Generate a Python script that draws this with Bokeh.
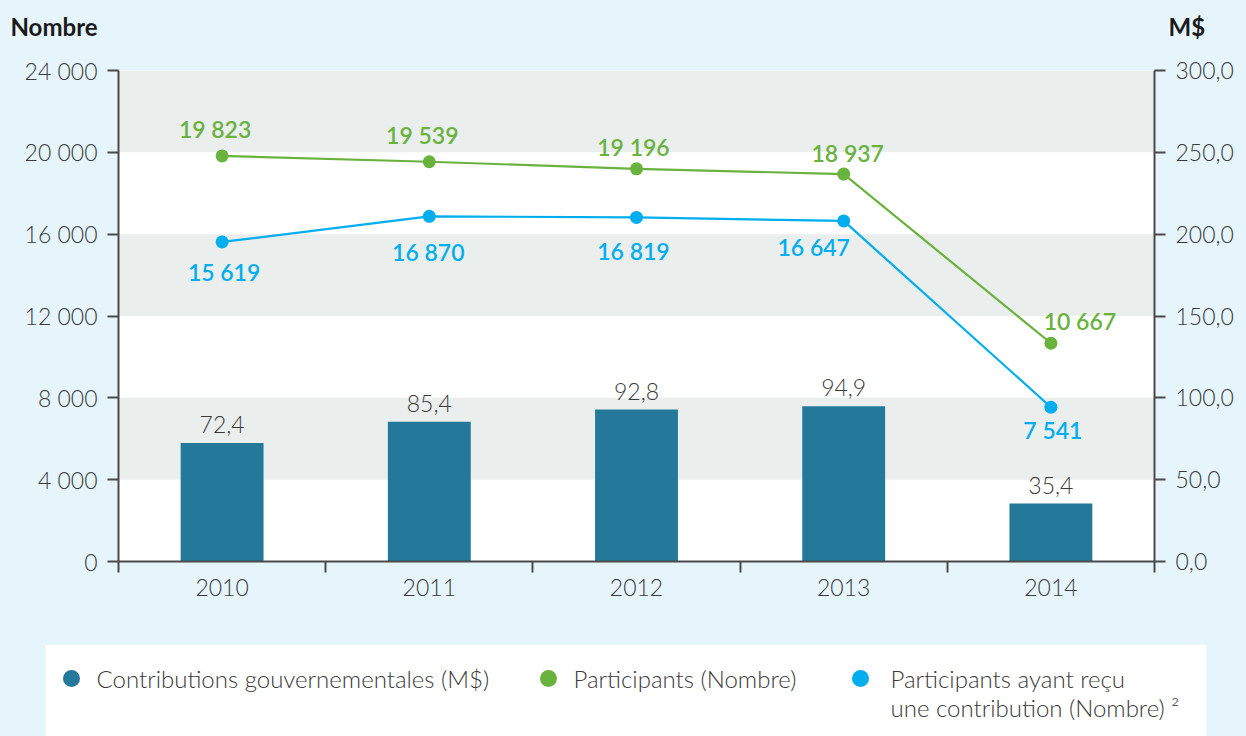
from bokeh.plotting import figure
from bokeh.models import (Range1d, LinearAxis, FixedTicker, BoxAnnotation,
                          ColumnDataSource, LabelSet)
from bokeh.layouts import column
from bokeh.embed import file_html
from bokeh.resources import INLINE
from bokeh.core.properties import value

# ---- data ----
years = ["2010", "2011", "2012", "2013", "2014"]
contributions = [72.4, 85.4, 92.8, 94.9, 35.4]          # M$
participants = [19823, 19539, 19196, 18937, 10667]      # Nombre
participants_contrib = [15619, 16870, 16819, 16647, 7541]
left_ticks = [0, 4000, 8000, 12000, 16000, 20000, 24000]
right_ticks = [0, 50, 100, 150, 200, 250, 300]
axis_titles = ["Nombre", "M$"]
legend_labels = ["Contributions gouvernementales (M$)", "Participants (Nombre)",
                 "Participants ayant reçu\nune contribution (Nombre) ²"]

# ---- styles ----
BG = "#e6f5fc"
BAR = "#24799a"
GREEN = "#6ab23e"
BLUE = "#00aeef"
GRAY_BAND = "#eaeeed"
AXIS = "#4a4a4a"
TXT = "#3a3a3a"
FONT = "Lato"
LIGHT = "'Lato Light', Lato"
SEMI = "'Lato Semibold', 'Lato SemiBold', Lato"

def fmt_int(v):
    return f"{v:,}".replace(",", " ")

def fmt_dec(v):
    return f"{v:.1f}".replace(".", ",")

W = 1246
HEAD_H = 50
MAIN_H = 594
LEG_H = 92

# ---- header with axis titles ----
hd = figure(width=W, height=HEAD_H, output_backend="svg", toolbar_location=None,
            x_range=Range1d(0, W), y_range=Range1d(HEAD_H, 0), min_border=0,
            frame_align=False)
hd.border_fill_color = BG
hd.background_fill_color = BG
hd.outline_line_color = None
hd.axis.visible = False
hd.grid.visible = False
hd.text(x=[10, 1168], y=[26, 26], text=axis_titles, text_align="left",
        text_baseline="middle", text_font=value(FONT), text_font_size="24px",
        text_font_style="bold", text_color="#1a1a1a")

# ---- main chart ----
p = figure(width=W, height=MAIN_H, output_backend="svg", toolbar_location=None,
           x_range=Range1d(0, 5), y_range=Range1d(0, 24000),
           min_border_left=118, min_border_right=92, min_border_top=20,
           min_border_bottom=83, frame_align=False)
p.border_fill_color = BG
p.background_fill_color = "white"
p.outline_line_color = None
p.xgrid.visible = False
p.ygrid.visible = False
p.extra_y_ranges = {"mm": Range1d(0, 300)}

for lo in [4000, 12000, 20000]:
    p.add_layout(BoxAnnotation(bottom=lo, top=lo + 4000, fill_color=GRAY_BAND,
                               fill_alpha=1, line_color=None, level="underlay"))

xc = [i + 0.5 for i in range(len(years))]

bsrc = ColumnDataSource(dict(x=xc, top=contributions,
                             lab=[fmt_dec(v) for v in contributions]))
p.vbar(x="x", top="top", width=0.4, bottom=0, source=bsrc, y_range_name="mm",
       fill_color=BAR, line_color=None)
p.add_layout(LabelSet(x="x", y="top", text="lab", source=bsrc, y_range_name="mm",
                      text_align="center", text_baseline="bottom", y_offset=10,
                      text_font=value(LIGHT), text_font_size="23px", text_color=TXT))

gsrc = ColumnDataSource(dict(x=xc, y=participants, lab=[fmt_int(v) for v in participants],
                             dx=[-7, -7, -3, 4, 29], dy=[27, 27, 22, 21, 22]))
bsrc2 = ColumnDataSource(dict(x=xc, y=participants_contrib,
                              lab=[fmt_int(v) for v in participants_contrib],
                              dx=[2, -1, -3, -30, 2], dy=[-30, -36, -34, -26, -23]))
for src, col in [(gsrc, GREEN), (bsrc2, BLUE)]:
    p.line(x="x", y="y", source=src, line_color=col, line_width=2.2)
    p.scatter(x="x", y="y", source=src, size=13, fill_color=col, line_color=None)
    p.add_layout(LabelSet(x="x", y="y", text="lab", source=src,
                          x_offset="dx", y_offset="dy",
                          text_align="center", text_baseline="middle",
                          text_font=value(SEMI), text_font_size="23px",
                          text_color=col))

p.xaxis.ticker = FixedTicker(ticks=xc, minor_ticks=list(range(6)))
p.xaxis.major_label_overrides = {x: y for x, y in zip(xc, years)}
p.xaxis.major_tick_out = 0
p.xaxis.major_tick_in = 0
p.xaxis.minor_tick_out = 11
p.xaxis.minor_tick_in = 0
p.xaxis.minor_tick_line_color = AXIS
p.xaxis.minor_tick_line_width = 2
p.xaxis.axis_line_color = AXIS
p.xaxis.axis_line_width = 2
p.xaxis.major_label_standoff = 6
p.xaxis.major_label_text_font = LIGHT
p.xaxis.major_label_text_font_size = "23px"
p.xaxis.major_label_text_color = TXT

p.yaxis.ticker = FixedTicker(ticks=left_ticks, minor_ticks=[])
p.yaxis.major_label_overrides = {t: fmt_int(t) for t in left_ticks}
ra = LinearAxis(y_range_name="mm", ticker=FixedTicker(ticks=right_ticks, minor_ticks=[]))
ra.major_label_overrides = {t: fmt_dec(t) for t in right_ticks}
p.add_layout(ra, "right")
for ax in [p.yaxis[0], ra]:
    ax.major_tick_out = 11
    ax.major_tick_in = 0
    ax.major_tick_line_color = AXIS
    ax.major_tick_line_width = 2
    ax.axis_line_color = AXIS
    ax.axis_line_width = 2
    ax.major_label_standoff = 10
    ax.major_label_text_font = LIGHT
    ax.major_label_text_font_size = "23px"
    ax.major_label_text_color = TXT

# ---- legend panel ----
lg = figure(width=W, height=LEG_H, output_backend="svg", toolbar_location=None,
            x_range=Range1d(0, W), y_range=Range1d(LEG_H, 0), min_border=0,
            frame_align=False)
lg.border_fill_color = BG
lg.background_fill_color = BG
lg.outline_line_color = None
lg.axis.visible = False
lg.grid.visible = False
lg.quad(left=45, right=1206, top=0, bottom=LEG_H, fill_color="white", line_color=None)
dot_x = [71, 548, 860]
txt_x = [96, 573, 890]
cols = [BAR, GREEN, BLUE]
lg.scatter(x=dot_x, y=[34] * 3, size=17, fill_color=cols, line_color=None)
for tx, lab in zip(txt_x, legend_labels):
    for k, line in enumerate(lab.split("\n")):
        lg.text(x=[tx], y=[34 + 29 * k], text=[line], text_align="left",
                text_baseline="middle", text_font=value(LIGHT),
                text_font_size="24px", text_color=TXT)

layout = column(hd, p, lg, spacing=0)
html = file_html(layout, INLINE)
html = html.replace("<head>", "<head><style>html,body{background:%s;}</style>" % BG, 1)
open("out.html", "w").write(html)
